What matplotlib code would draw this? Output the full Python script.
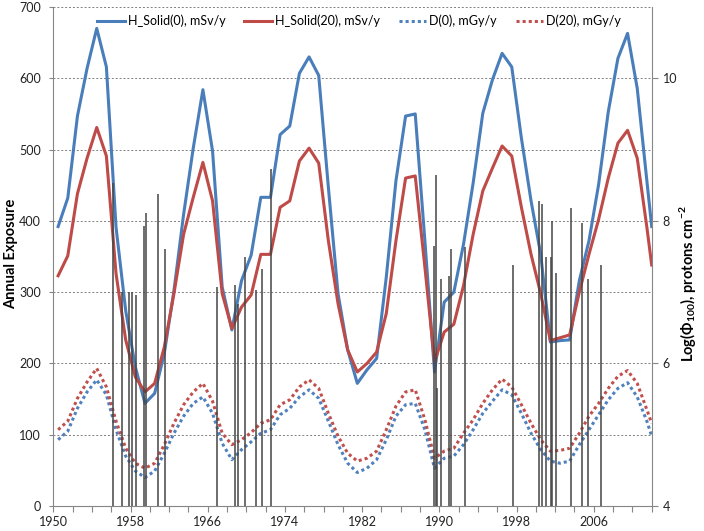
import numpy as np
import matplotlib
matplotlib.use("Agg")
import matplotlib.pyplot as plt

plt.rcParams['font.family'] = ['Lato', 'DejaVu Sans']
plt.rcParams['mathtext.fontset'] = 'custom'
plt.rcParams['mathtext.rm'] = 'Lato'
plt.rcParams['mathtext.bf'] = 'Lato:bold'

# ---- data ----
years = list(np.arange(1950.5, 2012.0, 1.0)) + [2012.0]

h_solid0 = [392, 432, 547, 614, 670, 616, 391, 274, 195, 144, 158, 214, 302, 409, 502, 584,
            498, 307, 247, 316, 352, 433, 433, 521, 533, 607, 630, 604, 447, 298, 219, 172,
            191, 207, 321, 456, 547, 550, 372, 188, 286, 300, 367, 453, 551, 598, 635, 616,
            516, 428, 353, 230, 232, 233, 316, 372, 451, 553, 628, 663, 586, 456, 392]
h_solid20 = [323, 351, 438, 488, 531, 491, 326, 233, 181, 160, 172, 223, 298, 381, 433, 482,
             428, 298, 249, 279, 296, 353, 353, 419, 428, 484, 502, 481, 372, 284, 219, 188,
             200, 216, 270, 372, 460, 463, 335, 202, 244, 255, 309, 381, 442, 474, 505, 491,
             419, 353, 298, 232, 236, 240, 300, 353, 402, 460, 509, 527, 488, 391, 338]
d0 = [93, 105, 137, 160, 177, 156, 107, 70, 49, 40, 49, 74, 102, 126, 144, 153,
      130, 88, 65, 79, 90, 102, 107, 128, 137, 153, 163, 151, 119, 86, 60, 47,
      53, 65, 93, 126, 142, 144, 107, 53, 67, 70, 86, 107, 130, 147, 163, 156,
      130, 102, 79, 63, 60, 63, 86, 107, 128, 149, 165, 173, 153, 119, 98]
d20 = [107, 119, 151, 174, 193, 167, 119, 81, 60, 53, 60, 86, 116, 142, 160, 172,
       147, 102, 86, 93, 103, 116, 121, 142, 149, 167, 177, 165, 130, 98, 74, 63,
       67, 77, 107, 140, 160, 163, 121, 67, 77, 81, 102, 121, 144, 163, 178, 167,
       142, 116, 93, 77, 78, 81, 102, 126, 144, 165, 182, 190, 172, 135, 116]

event_years = [1956.2, 1957.07, 1957.8, 1958.17, 1958.55, 1959.4, 1959.6, 1960.86, 1961.55,
               1967.0, 1968.79, 1969.17, 1969.83, 1971.0, 1971.65, 1972.6,
               1989.4, 1989.6, 1989.75, 1990.2, 1991.0, 1991.25, 1992.68,
               1997.64, 2000.33, 2000.68, 2001.03, 2001.55, 2001.71, 2002.06,
               2003.65, 2004.75, 2005.44, 2006.72]
event_logphi = [8.53, 7.0, 7.0, 7.0, 6.96, 7.93, 8.11, 8.37, 7.6,
                7.07, 7.1, 6.84, 7.5, 7.03, 7.32, 8.73,
                7.65, 8.65, 5.66, 7.19, 7.23, 7.61, 7.63,
                7.38, 8.28, 8.24, 7.5, 7.49, 8.0, 7.27,
                8.18, 7.97, 7.19, 7.38]

series_labels = ['H_Solid(0), mSv/y', 'H_Solid(20), mSv/y', 'D(0), mGy/y', 'D(20), mGy/y']
x_tick_labels = ['1950', '1958', '1966', '1974', '1982', '1990', '1998', '2006']

# ---- figure ----
W, H = 704, 531
fig = plt.figure(figsize=(W / 100, H / 100), dpi=100)
ax = fig.add_axes([53.3 / W, 1 - 506 / H, (651.7 - 53.3) / W, (506 - 7) / H])
ax2 = ax.twinx()

blue = '#4A7EBB'
red = '#BE4B48'
gray = '#868686'

ax.plot(years, h_solid0, color=blue, lw=2.2, label=series_labels[0], zorder=3)
ax.plot(years, h_solid20, color=red, lw=2.2, label=series_labels[1], zorder=3)
ax.plot(years, d0, color='#4F81BD', lw=2.2, linestyle=(0, (1, 1)),
        dash_capstyle='butt', label=series_labels[2], zorder=3)
ax.plot(years, d20, color='#C0504D', lw=2.2, linestyle=(0, (1, 1)),
        dash_capstyle='butt', label=series_labels[3], zorder=3)

ax2.vlines(event_years, 4, event_logphi, color='#454545', lw=1.1)

ax.set_xlim(1950, 2012)
ax.set_ylim(0, 700)
ax2.set_ylim(4, 11)

ax.set_yticks(range(0, 701, 100))
ax.yaxis.grid(True, color='#7f7f7f', linestyle=(0, (2, 2)), lw=0.7)
ax.set_axisbelow(True)

xt = list(range(1950, 2013, 2))
ax.set_xticks(xt)
ax.set_xticklabels([x_tick_labels[(y - 1950) // 8] if (y - 1950) % 8 == 0 else '' for y in xt])

ax2.set_yticks([4, 6, 8, 10])

for s in ['top']:
    ax.spines[s].set_visible(False)
    ax2.spines[s].set_visible(False)
for s in ['left', 'bottom']:
    ax.spines[s].set_color(gray)
ax.spines['right'].set_visible(False)
ax2.spines['left'].set_visible(False)
ax2.spines['bottom'].set_visible(False)
ax2.spines['right'].set_color(gray)

ax.tick_params(axis='both', direction='out', length=4, color=gray, labelsize=9,
               labelcolor='#222222', pad=3)
ax.tick_params(axis='y', length=3, pad=6)
ax2.tick_params(axis='y', direction='out', length=4, color=gray, labelsize=9,
                labelcolor='#222222', pad=4)

fig.text(11 / W, 1 - 254 / H, 'Annual Exposure', rotation=90, ha='center', va='center',
         fontsize=10.5, fontweight='bold')
fig.text(688 / W, 1 - 284 / H, r'Log(Φ$_{\mathbf{100}}$), protons cm$^{\mathbf{-2}}$',
         rotation=90, ha='center', va='center', fontsize=10.5, fontweight='bold',
         family=['Lato', 'DejaVu Sans'])

ax.legend(loc='center left', bbox_to_anchor=((97 - 53.3) / 598.4, 1 - (21 - 7) / 499),
          ncol=4, frameon=False, fontsize=9, handlelength=2.2, handletextpad=0.25,
          columnspacing=1.5, borderaxespad=0, borderpad=0)

fig.savefig('out.png', dpi=100)
